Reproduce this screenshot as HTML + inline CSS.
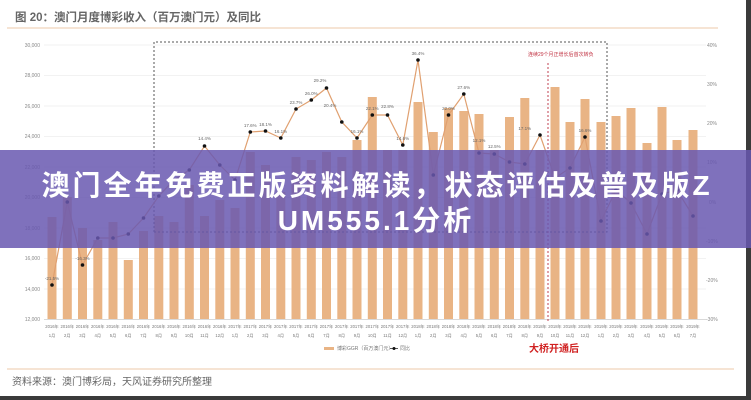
<!DOCTYPE html>
<html><head><meta charset="utf-8"><style>
html,body{margin:0;padding:0;background:#fff;}
svg{display:block;font-family:"Liberation Sans","Noto Sans CJK SC",sans-serif;}
</style></head><body>
<svg width="751" height="400" viewBox="0 0 751 400" xmlns="http://www.w3.org/2000/svg">
<rect width="751" height="400" fill="#fff"/>
<text x="15" y="21" font-size="11.5" font-weight="bold" fill="#666">图 20：澳门月度博彩收入（百万澳门元）及同比</text>
<line x1="7" y1="28" x2="718" y2="28" stroke="#f3dcc6" stroke-width="1.5"/>
<g stroke="#eeeeee" stroke-width="0.8">
<line x1="44" y1="45" x2="706" y2="45"/><line x1="44" y1="75.5" x2="706" y2="75.5"/><line x1="44" y1="106" x2="706" y2="106"/><line x1="44" y1="136.5" x2="706" y2="136.5"/><line x1="44" y1="167" x2="706" y2="167"/><line x1="44" y1="197.5" x2="706" y2="197.5"/><line x1="44" y1="228" x2="706" y2="228"/><line x1="44" y1="258.5" x2="706" y2="258.5"/><line x1="44" y1="289" x2="706" y2="289"/>
</g>
<line x1="44" y1="319.5" x2="706" y2="319.5" stroke="#ccc" stroke-width="0.8"/>
<g font-size="5" fill="#888" text-anchor="end">
<text x="40" y="47">30,000</text><text x="40" y="77">28,000</text><text x="40" y="108">26,000</text><text x="40" y="138">24,000</text><text x="40" y="169">22,000</text><text x="40" y="199">20,000</text><text x="40" y="230">18,000</text><text x="40" y="260">16,000</text><text x="40" y="291">14,000</text><text x="40" y="321">12,000</text>
</g>
<g font-size="5" fill="#888">
<text x="707" y="47">40%</text><text x="707" y="86">30%</text><text x="707" y="125">20%</text><text x="707" y="164">10%</text><text x="709" y="204">0%</text><text x="706" y="243">-10%</text><text x="706" y="282">-20%</text><text x="706" y="321">-30%</text>
</g>
<g fill="#e9b485">
<rect x="47.5" y="217" width="9" height="102"/><rect x="62.8" y="197" width="9" height="122"/><rect x="78" y="228" width="9" height="91"/><rect x="93.3" y="240" width="9" height="79"/><rect x="108.5" y="222" width="9" height="97"/><rect x="123.8" y="260" width="9" height="59"/><rect x="139" y="231" width="9" height="88"/><rect x="154.3" y="216" width="9" height="103"/><rect x="169.5" y="222" width="9" height="97"/><rect x="184.8" y="185" width="9" height="134"/><rect x="200" y="216" width="9" height="103"/><rect x="215.3" y="200" width="9" height="119"/><rect x="230.5" y="208" width="9" height="111"/><rect x="245.8" y="152" width="9" height="167"/><rect x="261" y="165" width="9" height="154"/><rect x="276.3" y="192" width="9" height="127"/><rect x="291.5" y="157" width="9" height="162"/><rect x="306.8" y="160" width="9" height="159"/><rect x="322" y="152" width="9" height="167"/><rect x="337.3" y="157" width="9" height="162"/><rect x="352.5" y="140" width="9" height="179"/><rect x="367.8" y="97" width="9" height="222"/><rect x="383" y="150" width="9" height="169"/><rect x="398.3" y="150" width="9" height="169"/><rect x="413.5" y="102" width="9" height="217"/><rect x="428.8" y="132" width="9" height="187"/><rect x="444" y="108" width="9" height="211"/><rect x="459.3" y="111" width="9" height="208"/><rect x="474.5" y="114" width="9" height="205"/><rect x="489.8" y="150" width="9" height="169"/><rect x="505" y="117" width="9" height="202"/><rect x="520.3" y="98" width="9" height="221"/><rect x="535.5" y="150" width="9" height="169"/><rect x="550.5" y="87" width="9" height="232"/><rect x="565.5" y="122" width="9" height="197"/><rect x="580.5" y="99" width="9" height="220"/><rect x="596.5" y="122" width="9" height="197"/><rect x="611.5" y="116" width="9" height="203"/><rect x="626.5" y="108" width="9" height="211"/><rect x="642.5" y="143" width="9" height="176"/><rect x="657.5" y="107" width="9" height="212"/><rect x="672.5" y="140" width="9" height="179"/><rect x="688.5" y="130" width="9" height="189"/>
</g>
<g stroke="#555" stroke-width="1" stroke-dasharray="2,2" fill="none">
<polyline points="154,232 154,42 607,42 607,232 154,232"/>
</g>
<line x1="548" y1="63" x2="548" y2="322" stroke="#c04050" stroke-width="1" stroke-dasharray="2,2"/>
<text x="528" y="56" font-size="5" fill="#c03040">连续29个月正增长后首次转负</text>
<polyline fill="none" stroke="#e0a070" stroke-width="1.2" points="52,285 67.3,202 82.5,265 97.8,238 113,238 128.3,234 143.5,218 158.8,196 174,180 189.3,170 204.5,146 219.8,165 235,180 250.3,132 265.5,131 280.8,138 296,109 311.3,100 326.5,88 341.8,122 357,138 372.3,115 387.5,115 402.8,145 418,60 433.3,175 448.5,115 463.8,94 479,153 494.3,154 509.5,162 524.8,164 540,135 555,178 570,168 585,137 601,221 616,190 631,203 647,234 662,194 677,190 693,216"/>
<g fill="#111">
<circle cx="52" cy="285" r="1.8"/><circle cx="67.3" cy="202" r="1.8"/><circle cx="82.5" cy="265" r="1.8"/><circle cx="97.8" cy="238" r="1.8"/><circle cx="113" cy="238" r="1.8"/><circle cx="128.3" cy="234" r="1.8"/><circle cx="143.5" cy="218" r="1.8"/><circle cx="158.8" cy="196" r="1.8"/><circle cx="174" cy="180" r="1.8"/><circle cx="189.3" cy="170" r="1.8"/><circle cx="204.5" cy="146" r="1.8"/><circle cx="219.8" cy="165" r="1.8"/><circle cx="235" cy="180" r="1.8"/><circle cx="250.3" cy="132" r="1.8"/><circle cx="265.5" cy="131" r="1.8"/><circle cx="280.8" cy="138" r="1.8"/><circle cx="296" cy="109" r="1.8"/><circle cx="311.3" cy="100" r="1.8"/><circle cx="326.5" cy="88" r="1.8"/><circle cx="341.8" cy="122" r="1.8"/><circle cx="357" cy="138" r="1.8"/><circle cx="372.3" cy="115" r="1.8"/><circle cx="387.5" cy="115" r="1.8"/><circle cx="402.8" cy="145" r="1.8"/><circle cx="418" cy="60" r="1.8"/><circle cx="433.3" cy="175" r="1.8"/><circle cx="448.5" cy="115" r="1.8"/><circle cx="463.8" cy="94" r="1.8"/><circle cx="479" cy="153" r="1.8"/><circle cx="494.3" cy="154" r="1.8"/><circle cx="509.5" cy="162" r="1.8"/><circle cx="524.8" cy="164" r="1.8"/><circle cx="540" cy="135" r="1.8"/><circle cx="555" cy="178" r="1.8"/><circle cx="570" cy="168" r="1.8"/><circle cx="585" cy="137" r="1.8"/><circle cx="601" cy="221" r="1.8"/><circle cx="616" cy="190" r="1.8"/><circle cx="631" cy="203" r="1.8"/><circle cx="647" cy="234" r="1.8"/><circle cx="662" cy="194" r="1.8"/><circle cx="677" cy="190" r="1.8"/><circle cx="693" cy="216" r="1.8"/>
</g>
<g font-size="4.5" fill="#666" text-anchor="middle">
<text x="52" y="280">-21.5%</text><text x="82.5" y="260">-16.3%</text><text x="204.5" y="140">14.4%</text><text x="250.3" y="127">17.6%</text><text x="265.5" y="126">18.1%</text><text x="280.8" y="133">16.1%</text><text x="296" y="104">23.7%</text><text x="311.3" y="95">26.0%</text><text x="320" y="82">29.2%</text><text x="330" y="107">20.4%</text><text x="357" y="133">16.1%</text><text x="372.3" y="110">22.1%</text><text x="387.5" y="108">22.8%</text><text x="402.8" y="140">14.6%</text><text x="418" y="55">36.4%</text><text x="448.5" y="110">22.0%</text><text x="463.8" y="89">27.6%</text><text x="479" y="142">12.1%</text><text x="494.3" y="148">12.5%</text><text x="524.8" y="130">17.1%</text><text x="585" y="132">16.6%</text>
</g>
<g font-size="4.2" fill="#777" text-anchor="middle">
<text x="52" y="328">2016年</text><text x="67.3" y="328">2016年</text><text x="82.5" y="328">2016年</text><text x="97.8" y="328">2016年</text><text x="113" y="328">2016年</text><text x="128.3" y="328">2016年</text><text x="143.5" y="328">2016年</text><text x="158.8" y="328">2016年</text><text x="174" y="328">2016年</text><text x="189.3" y="328">2016年</text><text x="204.5" y="328">2016年</text><text x="219.8" y="328">2016年</text><text x="235" y="328">2017年</text><text x="250.3" y="328">2017年</text><text x="265.5" y="328">2017年</text><text x="280.8" y="328">2017年</text><text x="296" y="328">2017年</text><text x="311.3" y="328">2017年</text><text x="326.5" y="328">2017年</text><text x="341.8" y="328">2017年</text><text x="357" y="328">2017年</text><text x="372.3" y="328">2017年</text><text x="387.5" y="328">2017年</text><text x="402.8" y="328">2017年</text><text x="418" y="328">2018年</text><text x="433.3" y="328">2018年</text><text x="448.5" y="328">2018年</text><text x="463.8" y="328">2018年</text><text x="479" y="328">2018年</text><text x="494.3" y="328">2018年</text><text x="509.5" y="328">2018年</text><text x="524.8" y="328">2018年</text><text x="540" y="328">2018年</text><text x="555" y="328">2018年</text><text x="570" y="328">2018年</text><text x="585" y="328">2018年</text><text x="601" y="328">2019年</text><text x="616" y="328">2019年</text><text x="631" y="328">2019年</text><text x="647" y="328">2019年</text><text x="662" y="328">2019年</text><text x="677" y="328">2019年</text><text x="693" y="328">2019年</text>
<text x="52" y="337">1月</text><text x="67.3" y="337">2月</text><text x="82.5" y="337">3月</text><text x="97.8" y="337">4月</text><text x="113" y="337">5月</text><text x="128.3" y="337">6月</text><text x="143.5" y="337">7月</text><text x="158.8" y="337">8月</text><text x="174" y="337">9月</text><text x="189.3" y="337">10月</text><text x="204.5" y="337">11月</text><text x="219.8" y="337">12月</text><text x="235" y="337">1月</text><text x="250.3" y="337">2月</text><text x="265.5" y="337">3月</text><text x="280.8" y="337">4月</text><text x="296" y="337">5月</text><text x="311.3" y="337">6月</text><text x="326.5" y="337">7月</text><text x="341.8" y="337">8月</text><text x="357" y="337">9月</text><text x="372.3" y="337">10月</text><text x="387.5" y="337">11月</text><text x="402.8" y="337">12月</text><text x="418" y="337">1月</text><text x="433.3" y="337">2月</text><text x="448.5" y="337">3月</text><text x="463.8" y="337">4月</text><text x="479" y="337">5月</text><text x="494.3" y="337">6月</text><text x="509.5" y="337">7月</text><text x="524.8" y="337">8月</text><text x="540" y="337">9月</text><text x="555" y="337">10月</text><text x="570" y="337">11月</text><text x="585" y="337">12月</text><text x="601" y="337">1月</text><text x="616" y="337">2月</text><text x="631" y="337">3月</text><text x="647" y="337">4月</text><text x="662" y="337">5月</text><text x="677" y="337">6月</text><text x="693" y="337">7月</text>
</g>
<rect x="324" y="347" width="10" height="3" fill="#e9b485"/>
<text x="337" y="350" font-size="5" fill="#777">博彩GGR（百万澳门元）</text>
<line x1="390" y1="348.5" x2="398" y2="348.5" stroke="#333" stroke-width="0.8"/><circle cx="394" cy="348.5" r="1.5" fill="#111"/>
<text x="400" y="350" font-size="5" fill="#777">同比</text>
<text x="529" y="352" font-size="10" font-weight="bold" fill="#d02020">大桥开通后</text>
<line x1="7" y1="369" x2="734" y2="369" stroke="#f3dcc6" stroke-width="1.5"/>
<text x="12" y="385" font-size="10" fill="#666">资料来源：澳门博彩局，天风证券研究所整理</text>
<rect x="746" y="0" width="5" height="400" fill="#3a3a3a"/>
<rect x="0" y="396" width="751" height="4" fill="#3a3a3a"/>
<rect x="0" y="150" width="751" height="98" fill="rgb(104,88,176)" fill-opacity="0.85"/>
<g font-size="28" font-weight="bold" fill="#fff" text-anchor="middle" letter-spacing="3">
<text x="377" y="195">澳门全年免费正版资料解读，状态评估及普及版Z</text>
<text x="376" y="230">UM555.1分析</text>
</g>
</svg>
</body></html>
